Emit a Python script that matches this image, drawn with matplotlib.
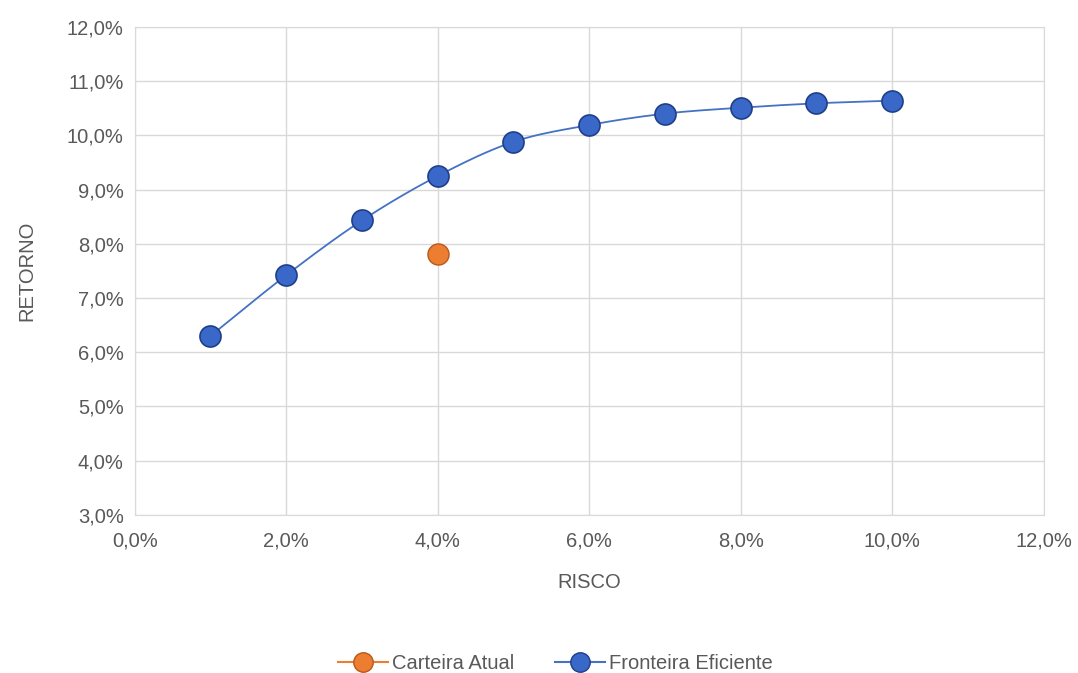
import matplotlib
matplotlib.use("Agg")
import matplotlib.pyplot as plt
import matplotlib.ticker as tck
import numpy as np

risco = [0.01, 0.02, 0.03, 0.04, 0.05, 0.06, 0.07, 0.08, 0.09, 0.10]
retorno = [0.0630, 0.0742, 0.0843, 0.0925, 0.0988, 0.1019, 0.1040, 0.1051, 0.1059, 0.1064]
atual_risco = [0.04]
atual_retorno = [0.0782]

plt.rcParams["font.family"] = ["Liberation Sans", "DejaVu Sans"]


def smooth(x, y, n=20):
    # Catmull-Rom curve through the points (like Excel's smoothed line)
    x = np.asarray(x); y = np.asarray(y)
    px = np.concatenate([[2 * x[0] - x[1]], x, [2 * x[-1] - x[-2]]])
    py = np.concatenate([[2 * y[0] - y[1]], y, [2 * y[-1] - y[-2]]])
    xs, ys = [], []
    t = np.linspace(0, 1, n)
    for i in range(1, len(px) - 2):
        for p, out in ((px, xs), (py, ys)):
            p0, p1, p2, p3 = p[i - 1], p[i], p[i + 1], p[i + 2]
            out.extend(0.5 * (2 * p1 + (-p0 + p2) * t + (2 * p0 - 5 * p1 + 4 * p2 - p3) * t ** 2
                              + (-p0 + 3 * p1 - 3 * p2 + p3) * t ** 3))
    return xs, ys


fig = plt.figure(figsize=(10.78, 6.73), dpi=100)
ax = fig.add_axes([0.125, 0.235, 0.843, 0.725])

sx, sy = smooth(risco, retorno)
ax.plot(sx, sy, color="#4472C4", linewidth=1.3, zorder=3)
ax.scatter(risco, retorno, s=230, color="#3A68C8", edgecolors="#1F3F8A", linewidths=1.2, zorder=4)
ax.scatter(atual_risco, atual_retorno, s=230, color="#ED7D31", edgecolors="#B55A1A", linewidths=1.0, zorder=4)

ax.set_xlim(0, 0.12)
ax.set_ylim(0.03, 0.12)
ax.xaxis.set_major_locator(tck.MultipleLocator(0.02))
ax.yaxis.set_major_locator(tck.MultipleLocator(0.01))
fmt = tck.FuncFormatter(lambda v, p: "{0:.1f}%".format(v * 100).replace(".", ","))
ax.xaxis.set_major_formatter(fmt)
ax.yaxis.set_major_formatter(fmt)
ax.grid(color="#D9D9D9", linewidth=1)
ax.set_axisbelow(True)
for s in ax.spines.values():
    s.set_color("#D9D9D9")
ax.tick_params(length=0, labelsize=14.5, colors="#595959")
ax.tick_params(axis="x", pad=12)
ax.tick_params(axis="y", pad=8)
ax.set_xlabel("RISCO", fontsize=14.5, color="#595959", labelpad=16)
ax.set_ylabel("RETORNO", fontsize=14.5, color="#595959", labelpad=22)

h1, = ax.plot([], [], color="#ED7D31", marker="o", markersize=14, markerfacecolor="#ED7D31",
              markeredgecolor="#B55A1A")
h2, = ax.plot([], [], color="#4472C4", marker="o", markersize=14, markerfacecolor="#3A68C8",
              markeredgecolor="#1F3F8A")
fig.legend([h1, h2], ["Carteira Atual", "Fronteira Eficiente"], loc="lower center",
           bbox_to_anchor=(0.515, -0.027), ncol=2, frameon=False, fontsize=14.5,
           labelcolor="#595959", handlelength=2.5, handletextpad=0.2, columnspacing=2)

fig.savefig("out.png", dpi=100)
